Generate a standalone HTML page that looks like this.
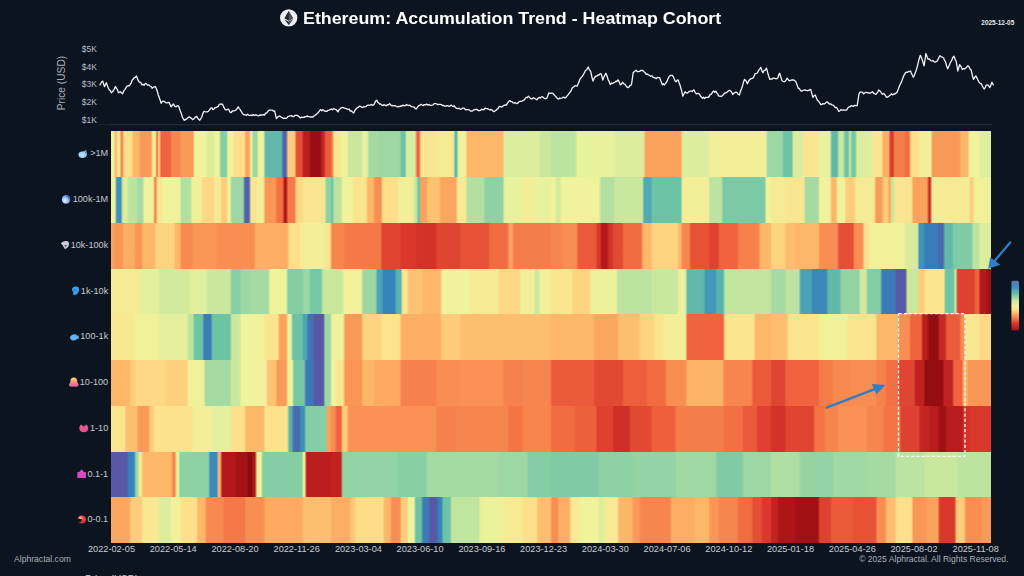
<!DOCTYPE html>
<html><head><meta charset="utf-8"><title>Ethereum: Accumulation Trend - Heatmap Cohort</title>
<style>
html,body{margin:0;padding:0;background:#0c141f;}
body{width:1024px;height:576px;position:relative;overflow:hidden;font-family:"Liberation Sans",sans-serif;color:#c9cdd3;}
.hr{position:absolute;left:111px;width:880px;}
.title{position:absolute;left:303px;top:7.3px;transform-origin:0 0;transform:scaleX(1.037);font-size:17.2px;font-weight:bold;color:#fff;white-space:nowrap;line-height:22px;letter-spacing:0px;}
.rl{position:absolute;right:915.8px;width:80px;text-align:right;font-size:9.15px;line-height:12px;color:#c6cad0;white-space:nowrap;}
.ic{position:absolute;}
.yl{position:absolute;left:70px;width:26.8px;text-align:right;font-size:8.5px;line-height:12px;color:#b9bec5;}
.xl{position:absolute;top:543.3px;width:60px;text-align:center;font-size:9.2px;line-height:12px;color:#c9cdd3;white-space:nowrap;}
.small{position:absolute;white-space:nowrap;}
svg{position:absolute;left:0;top:0;}
</style></head><body>
<div class="title">Ethereum: Accumulation Trend - Heatmap Cohort</div>
<div class="small" style="left:981.3px;top:18px;font-size:6.45px;font-weight:bold;color:#e8eaee;line-height:9px;">2025-12-05</div>
<div class="small" style="left:14px;top:553.2px;font-size:8.6px;line-height:12px;color:#a9afb8;">Alphractal.com</div>
<div class="small" style="left:859.2px;top:553px;font-size:8.55px;line-height:12px;color:#a9afb8;">&copy; 2025 Alphractal. All Rights Reserved.</div>
<div class="small" style="left:85px;top:574px;font-size:10px;line-height:12px;color:#c9cdd3;">Price (USD)</div>
<div class="small" style="left:62.2px;top:83px;width:0;height:0;"><div style="position:absolute;transform:translate(-50%,-50%) rotate(-90deg);font-size:10.2px;line-height:12px;color:#aab0b8;white-space:nowrap;">Price (USD)</div></div>
<div class="yl" style="top:43.2px">$5K</div><div class="yl" style="top:60.8px">$4K</div><div class="yl" style="top:78.3px">$3K</div><div class="yl" style="top:95.9px">$2K</div><div class="yl" style="top:114.1px">$1K</div>
<div style="position:absolute;left:0;top:0;width:1024px;height:576px;filter:blur(0.45px)"><div class="hr" style="top:131.40px;height:46.05px;background:linear-gradient(to right,#f0f39c 0.0px,#f0f39c 2.4px,#fdb768 4.8px,#f7ea94 7.2px,#f7ea94 8.4px,#f47848 10.8px,#fee08b 13.2px,#fee08b 20.4px,#fdb768 22.8px,#fdb768 27.6px,#fa9a59 30.0px,#fa9a59 39.5px,#f7ea94 41.9px,#f7ea94 44.3px,#f0633e 46.1px,#fee08b 47.9px,#f0633e 50.3px,#f0633e 58.7px,#f7854e 61.1px,#f7854e 68.3px,#fa9a59 70.7px,#fa9a59 81.5px,#f0f39c 83.9px,#f0f39c 94.7px,#dcee9d 97.1px,#dcee9d 101.8px,#f0f39c 104.2px,#f0f39c 107.8px,#84cda5 110.2px,#84cda5 115.0px,#f0f39c 117.4px,#f0f39c 121.0px,#fee08b 123.4px,#fee08b 133.0px,#fba25d 135.4px,#fba25d 137.8px,#f0f39c 140.2px,#9dd7a4 142.6px,#9dd7a4 145.5px,#f0f39c 147.9px,#f0f39c 152.2px,#62b9ab 154.6px,#62b9ab 170.1px,#5062aa 172.5px,#5062aa 174.9px,#fecc7a 177.3px,#fecc7a 183.3px,#e44e34 185.7px,#e44e34 190.5px,#bc1e1f 192.9px,#bc1e1f 197.7px,#980e12 200.1px,#980e12 209.2px,#c32522 211.6px,#c32522 212.6px,#eb5a3a 215.0px,#eb5a3a 218.8px,#f37044 221.0px,#fae690 223.1px,#fae690 228.4px,#f0f39c 230.8px,#f0f39c 235.6px,#c9e89e 238.0px,#c9e89e 250.0px,#e8f19c 252.4px,#e8f19c 255.9px,#a6daa3 258.3px,#a6daa3 266.7px,#9dd7a4 269.1px,#9dd7a4 288.3px,#6cc3a6 290.7px,#6cc3a6 293.6px,#dcee9d 296.0px,#dcee9d 303.9px,#f0633e 306.3px,#f0633e 307.9px,#fae690 310.3px,#fae690 324.2px,#f7ea94 326.6px,#f7ea94 342.2px,#5bb3ae 344.6px,#5bb3ae 345.3px,#f0f39c 347.7px,#f0f39c 354.2px,#fdb768 356.6px,#fdb768 391.3px,#dcee9d 393.7px,#dcee9d 427.3px,#c9e89e 429.7px,#c9e89e 438.8px,#bce3a0 441.2px,#bce3a0 464.0px,#e8f19c 466.4px,#e8f19c 502.3px,#dcee9d 504.7px,#dcee9d 532.3px,#fba25d 534.7px,#fba25d 569.4px,#dcee9d 571.8px,#dcee9d 597.0px,#f3ef99 599.4px,#f3ef99 654.5px,#9dd7a4 656.9px,#9dd7a4 658.8px,#9dd7a4 661.2px,#9dd7a4 670.8px,#6cc3a6 673.2px,#6cc3a6 680.4px,#dcee9d 682.8px,#dcee9d 691.2px,#fae690 693.6px,#fae690 706.7px,#e8f19c 709.1px,#e8f19c 718.7px,#62b9ab 721.1px,#62b9ab 725.9px,#c9e89e 728.3px,#c9e89e 731.9px,#6cc3a6 734.3px,#6cc3a6 736.7px,#c9e89e 739.1px,#76c7a6 741.5px,#76c7a6 743.9px,#dcee9d 746.3px,#dcee9d 759.4px,#fae690 761.8px,#fae690 770.2px,#fcaf64 772.6px,#fcaf64 777.4px,#d9382b 779.8px,#d9382b 781.5px,#f57d4a 783.9px,#f57d4a 793.0px,#f26c42 795.4px,#f26c42 797.8px,#fee08b 800.2px,#fee08b 807.4px,#f3ef99 809.8px,#f3ef99 819.4px,#fa9a59 821.8px,#fa9a59 848.1px,#fdb768 850.5px,#fdb768 856.5px,#f0f39c 858.9px,#f0f39c 867.3px,#e0ef9d 869.7px,#e0ef9d 880.0px)"></div><div class="hr" style="top:177.15px;height:46.05px;background:linear-gradient(to right,#f0f39c 0.0px,#f0f39c 3.6px,#4093b8 6.0px,#4093b8 9.6px,#dcee9d 12.0px,#dcee9d 15.6px,#bce3a0 18.0px,#bce3a0 25.2px,#a6daa3 27.6px,#a6daa3 31.2px,#f0f39c 33.6px,#f0f39c 41.9px,#f47848 44.3px,#fae690 46.7px,#fae690 50.3px,#f0f39c 52.7px,#f0f39c 68.3px,#b3e0a1 70.7px,#b3e0a1 79.1px,#f3ef99 81.5px,#f3ef99 89.9px,#fed884 92.3px,#fed884 101.8px,#f7ea94 104.2px,#f7ea94 109.0px,#fecc7a 111.4px,#fecc7a 115.0px,#f0f39c 117.4px,#f0f39c 118.6px,#9dd7a4 121.0px,#9dd7a4 131.8px,#5062aa 134.2px,#5062aa 137.8px,#fae690 140.2px,#fae690 145.0px,#f3ef99 147.4px,#f3ef99 152.2px,#fa9656 154.6px,#fa9656 164.1px,#f37044 166.5px,#f37044 171.3px,#ad1519 173.7px,#ad1519 174.9px,#f47848 177.3px,#f47848 183.3px,#fed884 185.7px,#fed884 190.5px,#fae690 192.9px,#fae690 213.3px,#8ed1a5 215.7px,#8ed1a5 218.8px,#6cc3a6 221.2px,#bce3a0 223.6px,#bce3a0 229.6px,#f0f39c 232.0px,#f0f39c 240.4px,#fbe48e 242.8px,#fbe48e 254.7px,#fdb768 257.1px,#fdb768 261.9px,#f98e52 264.3px,#f98e52 269.6px,#fee08b 272.0px,#fee08b 285.9px,#f3ef99 288.3px,#f3ef99 301.5px,#c9e89e 303.9px,#c9e89e 305.1px,#6cc3a6 307.5px,#6cc3a6 307.9px,#fba25d 310.3px,#fba25d 314.7px,#fdc372 317.1px,#fdc372 327.8px,#fba75f 330.2px,#fba75f 344.6px,#f7ea94 347.0px,#f7ea94 354.2px,#b3e0a1 356.6px,#b3e0a1 372.2px,#8ed1a5 374.6px,#8ed1a5 391.3px,#e8f19c 393.7px,#e8f19c 410.5px,#f4ed97 412.9px,#f4ed97 422.5px,#e8f19c 424.9px,#e8f19c 438.8px,#f0f39c 441.2px,#f0f39c 443.6px,#d1ea9e 446.0px,#d1ea9e 448.4px,#f0f39c 450.8px,#f0f39c 487.9px,#b3e0a1 490.3px,#b3e0a1 502.3px,#c9e89e 504.7px,#c9e89e 531.1px,#51a9b3 533.5px,#51a9b3 539.4px,#6cc3a6 541.8px,#6cc3a6 569.4px,#f3ef99 571.8px,#f3ef99 597.0px,#bce3a0 599.4px,#bce3a0 610.1px,#7bc9a5 612.5px,#7bc9a5 653.3px,#f0f39c 655.7px,#f0f39c 658.8px,#f7ea94 661.2px,#f7ea94 673.2px,#fae690 675.6px,#fae690 692.3px,#a6daa3 694.7px,#a6daa3 706.7px,#f0f39c 709.1px,#f0f39c 718.7px,#fdb768 721.1px,#fdb768 724.7px,#f0f39c 727.1px,#f0f39c 733.1px,#fecc7a 735.5px,#fecc7a 742.7px,#f7ea94 745.1px,#f7ea94 763.0px,#fa9a59 765.4px,#fa9a59 770.2px,#fecc7a 772.6px,#fecc7a 776.2px,#fba25d 778.6px,#c9e89e 781.0px,#c9e89e 782.2px,#fae690 784.6px,#fae690 800.2px,#fba25d 802.6px,#fba25d 815.8px,#c72824 818.2px,#c72824 818.9px,#f6eb95 821.3px,#f6eb95 857.7px,#fecc7a 860.1px,#fecc7a 861.3px,#f1f19a 863.7px,#f1f19a 880.0px)"></div><div class="hr" style="top:222.90px;height:46.05px;background:linear-gradient(to right,#fba25d 0.0px,#fba25d 2.4px,#fa9656 4.8px,#fa9656 10.8px,#fcaf64 13.2px,#fcaf64 22.8px,#fa9656 25.2px,#fa9656 30.0px,#fdb768 32.4px,#fdb768 43.1px,#fed480 45.5px,#fed480 62.3px,#fdb768 64.7px,#fdb768 68.3px,#f88a50 70.7px,#f88a50 80.3px,#fa9656 82.7px,#fa9656 104.2px,#f98e52 106.6px,#f98e52 142.6px,#fcaf64 145.0px,#fcaf64 176.1px,#fee08b 178.5px,#fee08b 188.1px,#f3ef99 190.5px,#f3ef99 212.1px,#fae690 214.5px,#fae690 218.8px,#f7854e 221.2px,#f7854e 232.0px,#f47848 234.4px,#f47848 269.1px,#e04531 271.5px,#e04531 288.3px,#d9382b 290.7px,#d9382b 303.9px,#d23228 306.3px,#d23228 324.2px,#e04531 326.6px,#e04531 348.2px,#e75236 350.6px,#e75236 377.0px,#f26c42 379.4px,#f26c42 396.1px,#fba25d 398.5px,#fba25d 400.9px,#f57d4a 403.3px,#f57d4a 438.8px,#f7854e 441.2px,#f7854e 450.8px,#f98e52 453.2px,#f98e52 465.2px,#eb5a3a 467.6px,#eb5a3a 484.3px,#d9382b 486.7px,#d9382b 488.6px,#b5181c 491.0px,#b5181c 495.8px,#d23228 498.2px,#d23228 500.6px,#e24933 503.0px,#e24933 510.7px,#f26c42 513.1px,#f26c42 529.9px,#fdb768 532.3px,#fdb768 539.4px,#fed480 541.8px,#fed480 565.8px,#fdb768 568.2px,#fdb768 569.4px,#f7854e 571.8px,#f7854e 577.8px,#e75236 580.2px,#e75236 597.0px,#de412f 599.4px,#de412f 606.5px,#f0633e 608.9px,#f0633e 625.7px,#f6814c 628.1px,#f6814c 647.3px,#fdb768 649.7px,#fdb768 658.8px,#fed480 661.2px,#fed480 673.2px,#fdbf6f 675.6px,#fdbf6f 682.8px,#fdb768 685.2px,#fdb768 706.7px,#f98e52 709.1px,#f98e52 725.9px,#e44e34 728.3px,#e44e34 741.5px,#f98e52 743.9px,#f98e52 751.1px,#fee08b 753.5px,#fee08b 757.1px,#f1f19a 759.5px,#f1f19a 793.0px,#d9ec9d 795.4px,#d9ec9d 806.2px,#4093b8 808.6px,#4093b8 812.2px,#3b7cb8 814.6px,#3b7cb8 826.5px,#4b69ad 828.9px,#4b69ad 831.8px,#62b9ab 834.2px,#62b9ab 840.9px,#80cba5 843.3px,#80cba5 860.1px,#bce3a0 862.5px,#bce3a0 867.3px,#dcee9d 869.7px,#dcee9d 880.0px)"></div><div class="hr" style="top:268.65px;height:46.05px;background:linear-gradient(to right,#f7ea94 0.0px,#f7ea94 27.6px,#e4f09d 30.0px,#e4f09d 46.7px,#d1ea9e 49.1px,#d1ea9e 77.9px,#e0ef9d 80.3px,#e0ef9d 94.7px,#c9e89e 97.1px,#c9e89e 118.6px,#84cda5 121.0px,#84cda5 128.2px,#9dd7a4 130.6px,#9dd7a4 137.8px,#a6daa3 140.2px,#a6daa3 157.0px,#f0f39c 159.4px,#f0f39c 174.9px,#84cda5 177.3px,#84cda5 190.5px,#9dd7a4 192.9px,#9dd7a4 197.7px,#76c7a6 200.1px,#76c7a6 209.7px,#c9e89e 212.1px,#c9e89e 218.8px,#c9e89e 221.2px,#c9e89e 230.8px,#f1f19a 233.2px,#f1f19a 250.0px,#9dd7a4 252.4px,#9dd7a4 264.3px,#4aa3b6 266.7px,#4aa3b6 270.3px,#3683bb 272.7px,#3683bb 283.5px,#5bb3ae 285.9px,#5bb3ae 289.5px,#fae690 291.9px,#fae690 295.5px,#fdc372 297.9px,#fdc372 309.9px,#fdb768 312.3px,#fdb768 329.0px,#f0f39c 331.4px,#f0f39c 357.8px,#f7ea94 360.2px,#f7ea94 386.5px,#fed884 388.9px,#fed884 408.1px,#f3ef99 410.5px,#f3ef99 422.5px,#c9e89e 424.9px,#c9e89e 427.3px,#f1f19a 429.7px,#f1f19a 438.8px,#fae690 441.2px,#fae690 460.4px,#fed480 462.8px,#fed480 478.3px,#ecf29c 480.7px,#ecf29c 504.7px,#bce3a0 507.1px,#bce3a0 539.4px,#c9e89e 541.8px,#c9e89e 565.8px,#e8f19c 568.2px,#e8f19c 574.2px,#62b9ab 576.6px,#62b9ab 592.2px,#4499b8 594.6px,#4499b8 604.1px,#5bb3ae 606.5px,#5bb3ae 611.8px,#c0e59f 614.2px,#c0e59f 658.8px,#a6daa3 661.2px,#a6daa3 673.2px,#bce3a0 675.6px,#bce3a0 687.6px,#4aa3b6 690.0px,#4aa3b6 699.5px,#3a89ba 701.9px,#3a89ba 715.1px,#62b9ab 717.5px,#62b9ab 728.3px,#93d3a4 730.7px,#93d3a4 747.5px,#d1ea9e 749.9px,#d1ea9e 754.7px,#84cda5 757.1px,#84cda5 769.0px,#3b7cb8 771.4px,#3b7cb8 783.4px,#5758a6 785.8px,#5758a6 794.2px,#c9e89e 796.6px,#c9e89e 806.2px,#fecc7a 808.6px,#fecc7a 812.2px,#fbe48e 814.6px,#fbe48e 832.5px,#6cc3a6 834.9px,#6cc3a6 842.1px,#c9e89e 844.5px,#de412f 846.9px,#de412f 862.5px,#f0633e 864.9px,#f0633e 867.3px,#b5181c 869.7px,#b5181c 874.5px,#a01115 876.9px,#a01115 880.0px)"></div><div class="hr" style="top:314.40px;height:46.05px;background:linear-gradient(to right,#f8e892 0.0px,#f8e892 22.8px,#f1f19a 25.2px,#f1f19a 46.7px,#e4f09d 49.1px,#e4f09d 75.5px,#bce3a0 77.9px,#bce3a0 81.5px,#6cc3a6 83.9px,#6cc3a6 91.1px,#3b7cb8 93.5px,#3b7cb8 99.4px,#6cc3a6 101.8px,#6cc3a6 118.6px,#c9e89e 121.0px,#c9e89e 128.2px,#f0f39c 130.6px,#f0f39c 152.2px,#fbe48e 154.6px,#fbe48e 166.5px,#fba25d 168.9px,#fba25d 174.9px,#f0f39c 177.3px,#f0f39c 179.7px,#6cc3a6 182.1px,#6cc3a6 190.5px,#4aa3b6 192.9px,#4aa3b6 195.3px,#4372b2 197.7px,#4372b2 201.3px,#5a55a4 203.7px,#5a55a4 212.1px,#9dd7a4 214.5px,#9dd7a4 218.8px,#f0f39c 221.2px,#f0f39c 232.0px,#fa9a59 234.4px,#fa9a59 250.0px,#fed480 252.4px,#fed480 269.1px,#fbe48e 271.5px,#fbe48e 288.3px,#fcaf64 290.7px,#fcaf64 329.0px,#fecc7a 331.4px,#fecc7a 348.2px,#fdbf6f 350.6px,#fdbf6f 438.8px,#fdb768 441.2px,#fdb768 481.9px,#fba75f 484.3px,#fba75f 505.9px,#fdbf6f 508.3px,#fdbf6f 527.5px,#fed480 529.9px,#fed480 541.8px,#fbe48e 544.2px,#fbe48e 551.4px,#f3ef99 553.8px,#f3ef99 574.2px,#f0633e 576.6px,#f0633e 611.8px,#fbe48e 614.2px,#fbe48e 642.5px,#fdb768 644.9px,#fdb768 658.8px,#fdbf6f 661.2px,#fdbf6f 675.6px,#fbe48e 678.0px,#fbe48e 706.7px,#f1f19a 709.1px,#f1f19a 735.5px,#fbe48e 737.9px,#fbe48e 764.2px,#fdb768 766.6px,#fdb768 785.8px,#f98e52 788.2px,#f98e52 797.8px,#f0633e 800.2px,#f0633e 809.8px,#bc1e1f 812.2px,#bc1e1f 815.8px,#930d11 818.2px,#930d11 826.5px,#c72824 828.9px,#c72824 833.7px,#eb5a3a 836.1px,#eb5a3a 848.1px,#f98e52 850.5px,#f98e52 852.9px,#f8e892 855.3px,#f8e892 867.3px,#fed884 869.7px,#fed884 880.0px)"></div><div class="hr" style="top:360.15px;height:46.05px;background:linear-gradient(to right,#fdb768 0.0px,#fdb768 18.0px,#fecc7a 20.4px,#fecc7a 22.8px,#fed884 25.2px,#fed884 53.9px,#fed07d 56.3px,#fed07d 75.5px,#f1f19a 77.9px,#f1f19a 92.3px,#a6daa3 94.7px,#a6daa3 118.6px,#c9e89e 121.0px,#c9e89e 128.2px,#f0f39c 130.6px,#f0f39c 154.6px,#fdc372 157.0px,#fdc372 164.1px,#fa9a59 166.5px,#fa9a59 174.9px,#f0f39c 177.3px,#f0f39c 180.9px,#76c7a6 183.3px,#76c7a6 192.9px,#3e79b6 195.3px,#3e79b6 201.3px,#5758a6 203.7px,#5758a6 212.1px,#9dd7a4 214.5px,#9dd7a4 218.8px,#f0f39c 221.2px,#f0f39c 223.6px,#fae690 226.0px,#fae690 232.0px,#fa9656 234.4px,#fa9656 250.0px,#fdb768 252.4px,#fdb768 261.9px,#fcab61 264.3px,#fcab61 288.3px,#f6814c 290.7px,#f6814c 324.2px,#f98e52 326.6px,#f98e52 348.2px,#f99254 350.6px,#f99254 391.3px,#f6814c 393.7px,#f6814c 410.5px,#f7854e 412.9px,#f7854e 438.8px,#eb5a3a 441.2px,#eb5a3a 481.9px,#e24933 484.3px,#e24933 510.7px,#ee5f3c 513.1px,#ee5f3c 534.7px,#f26c42 537.1px,#f26c42 553.8px,#f98e52 556.2px,#f98e52 574.2px,#fdb366 576.6px,#fdb366 611.3px,#f7854e 613.7px,#f7854e 640.1px,#eb5a3a 642.5px,#eb5a3a 658.8px,#e04531 661.2px,#e04531 673.2px,#f0633e 675.6px,#f0633e 706.7px,#f57d4a 709.1px,#f57d4a 721.1px,#f88a50 723.5px,#f88a50 737.9px,#f98e52 740.3px,#f98e52 764.2px,#f6814c 766.6px,#f6814c 773.8px,#f37044 776.2px,#f37044 785.8px,#e04531 788.2px,#e04531 802.6px,#c02220 805.0px,#c02220 812.2px,#930d11 814.6px,#930d11 831.3px,#c02220 833.7px,#c02220 840.9px,#f0633e 843.3px,#f0633e 850.5px,#fdb768 852.9px,#fdb768 855.3px,#fa9656 857.7px,#fa9656 880.0px)"></div><div class="hr" style="top:405.90px;height:46.05px;background:linear-gradient(to right,#fbe48e 0.0px,#fbe48e 13.2px,#fdbf6f 15.6px,#fdbf6f 25.2px,#fa9a59 27.6px,#fa9a59 37.1px,#fecc7a 39.5px,#fecc7a 41.9px,#fde28d 44.3px,#fde28d 80.3px,#f3ef99 82.7px,#f3ef99 99.4px,#e4f09d 101.8px,#e4f09d 118.6px,#fee08b 121.0px,#fee08b 133.0px,#fdb768 135.4px,#fdb768 152.2px,#fde28d 154.6px,#fde28d 176.1px,#5bb3ae 178.5px,#5bb3ae 180.4px,#486caf 182.8px,#486caf 188.1px,#3e90b9 190.5px,#3e90b9 192.9px,#84cda5 195.3px,#84cda5 214.5px,#fba25d 216.9px,#fba25d 218.8px,#f98e52 221.2px,#f98e52 223.6px,#f0633e 226.0px,#f0633e 229.6px,#fecc7a 232.0px,#fecc7a 235.6px,#f99254 238.0px,#f99254 324.2px,#f6814c 326.6px,#f6814c 343.4px,#f7854e 345.8px,#f7854e 396.1px,#f47446 398.5px,#f47446 410.5px,#f7854e 412.9px,#f7854e 438.8px,#f26c42 441.2px,#f26c42 462.8px,#ee5f3c 465.2px,#ee5f3c 484.3px,#de412f 486.7px,#de412f 501.1px,#ce2e26 503.5px,#ce2e26 517.9px,#e24933 520.3px,#e24933 539.4px,#ee5f3c 541.8px,#ee5f3c 563.4px,#f57d4a 565.8px,#f57d4a 611.3px,#f37044 613.7px,#f37044 630.5px,#eb5a3a 632.9px,#eb5a3a 644.9px,#de412f 647.3px,#de412f 658.8px,#d23228 661.2px,#d23228 673.2px,#e04531 675.6px,#e04531 701.9px,#f47446 704.3px,#f47446 712.7px,#f7854e 715.1px,#f7854e 725.9px,#f99254 728.3px,#f99254 754.7px,#f7854e 757.1px,#f7854e 771.4px,#f47446 773.8px,#f47446 788.2px,#de412f 790.6px,#de412f 807.4px,#c32522 809.8px,#c32522 817.0px,#b91b1e 819.4px,#b91b1e 826.5px,#a01115 828.9px,#a01115 833.7px,#b91b1e 836.1px,#b91b1e 850.5px,#d23228 852.9px,#d23228 857.7px,#d9382b 860.1px,#d9382b 880.0px)"></div><div class="hr" style="top:451.65px;height:46.05px;background:linear-gradient(to right,#5758a6 0.0px,#5758a6 15.6px,#3683bb 18.0px,#3683bb 22.8px,#9dd7a4 25.2px,#9dd7a4 26.4px,#f7ea94 28.8px,#f7ea94 30.0px,#fdb768 32.4px,#fdb768 59.9px,#f7854e 62.3px,#f7854e 63.5px,#f0f39c 65.9px,#f0f39c 67.1px,#8ed1a5 69.5px,#8ed1a5 97.1px,#3a89ba 99.5px,#3a89ba 105.4px,#fdb768 107.8px,#fdb768 109.0px,#b5181c 111.4px,#b5181c 123.4px,#a41216 125.8px,#a41216 135.4px,#8b0a0e 137.8px,#8b0a0e 140.2px,#ad1519 142.6px,#ad1519 143.8px,#f0f39c 146.2px,#f0f39c 149.8px,#84cda5 152.2px,#84cda5 190.5px,#f0f39c 192.9px,#f0f39c 193.4px,#bc1e1f 195.8px,#bc1e1f 218.8px,#c02220 221.2px,#c02220 229.6px,#93d3a4 232.0px,#93d3a4 285.9px,#89cfa5 288.3px,#89cfa5 314.7px,#a6daa3 317.1px,#a6daa3 386.5px,#9dd7a4 388.9px,#9dd7a4 415.3px,#84cda5 417.7px,#84cda5 438.8px,#80cba5 441.2px,#80cba5 486.7px,#8ed1a5 489.1px,#8ed1a5 520.3px,#93d3a4 522.7px,#93d3a4 563.4px,#a1d9a3 565.8px,#a1d9a3 604.1px,#80cba5 606.5px,#80cba5 630.5px,#9dd7a4 632.9px,#9dd7a4 658.8px,#afdea2 661.2px,#afdea2 687.6px,#93d3a4 690.0px,#93d3a4 721.1px,#a1d9a3 723.5px,#a1d9a3 754.7px,#a6daa3 757.1px,#a6daa3 783.4px,#bce3a0 785.8px,#bce3a0 812.2px,#c9e89e 814.6px,#c9e89e 845.7px,#bce3a0 848.1px,#bce3a0 880.0px)"></div><div class="hr" style="top:497.40px;height:46.05px;background:linear-gradient(to right,#fba75f 0.0px,#fba75f 18.0px,#fecc7a 20.4px,#fecc7a 30.0px,#f8e892 32.4px,#f8e892 46.7px,#dcee9d 49.1px,#dcee9d 58.7px,#f1f19a 61.1px,#f1f19a 68.3px,#fee08b 70.7px,#fee08b 85.1px,#fdb768 87.5px,#fdb768 93.5px,#f88a50 95.9px,#f88a50 111.4px,#f47848 113.8px,#f47848 133.0px,#f98e52 135.4px,#f98e52 152.2px,#fcab61 154.6px,#fcab61 190.5px,#fdbf6f 192.9px,#fdbf6f 218.8px,#fcaf64 221.2px,#fcaf64 238.0px,#fdc776 240.4px,#fdc776 242.8px,#fedc88 245.2px,#fedc88 271.5px,#fdb768 273.9px,#fdb768 278.7px,#f98e52 281.1px,#f98e52 288.3px,#fecc7a 290.7px,#fecc7a 295.5px,#f0f39c 297.9px,#f0f39c 302.7px,#6cc3a6 305.1px,#6cc3a6 309.9px,#3e79b6 312.3px,#3e79b6 317.1px,#5758a6 319.5px,#5758a6 325.4px,#3683bb 327.8px,#3683bb 330.2px,#6cc3a6 332.6px,#6cc3a6 338.6px,#c0e59f 341.0px,#c0e59f 367.4px,#ecf29c 369.8px,#ecf29c 391.3px,#f7ea94 393.7px,#f7ea94 410.5px,#fee08b 412.9px,#fee08b 424.9px,#fdbf6f 427.3px,#fdbf6f 438.8px,#f98e52 441.2px,#f98e52 446.0px,#fcaf64 448.4px,#fcaf64 458.0px,#f7ea94 460.4px,#f7ea94 467.6px,#f0f39c 470.0px,#f0f39c 486.7px,#dcee9d 489.1px,#dcee9d 491.5px,#f7ea94 493.9px,#f7ea94 505.9px,#fdb768 508.3px,#fdb768 520.3px,#fa9a59 522.7px,#fa9a59 527.5px,#f7854e 529.9px,#f7854e 558.6px,#fcaf64 561.0px,#fcaf64 582.6px,#fdb768 585.0px,#fdb768 597.0px,#fa9656 599.4px,#fa9656 606.5px,#f7854e 608.9px,#f7854e 625.7px,#f26c42 628.1px,#f26c42 640.1px,#e44e34 642.5px,#e44e34 649.7px,#d9382b 652.1px,#d9382b 658.8px,#c02220 661.2px,#c02220 666.0px,#ad1519 668.4px,#ad1519 682.8px,#a01115 685.2px,#a01115 706.7px,#de412f 709.1px,#de412f 718.7px,#eb5a3a 721.1px,#eb5a3a 740.3px,#e75236 742.7px,#e75236 764.2px,#f98e52 766.6px,#f98e52 773.8px,#fdbf6f 776.2px,#fdbf6f 783.4px,#fee08b 785.8px,#fee08b 800.2px,#fa9656 802.6px,#fa9656 814.6px,#fba25d 817.0px,#fba25d 826.5px,#d9382b 828.9px,#d9382b 843.3px,#fecc7a 845.7px,#fecc7a 852.9px,#f98e52 855.3px,#f98e52 869.7px,#fa9a59 872.1px,#fa9a59 880.0px)"></div></div>
<div class="rl" style="top:147.38px">>1M</div><div class="rl" style="top:193.12px">100k-1M</div><div class="rl" style="top:238.88px">10k-100k</div><div class="rl" style="top:284.62px">1k-10k</div><div class="rl" style="top:330.38px">100-1k</div><div class="rl" style="top:376.12px">10-100</div><div class="rl" style="top:421.88px">1-10</div><div class="rl" style="top:467.62px">0.1-1</div><div class="rl" style="top:513.38px">0-0.1</div>
<div class="xl" style="left:81.5px">2022-02-05</div><div class="xl" style="left:143.2px">2022-05-14</div><div class="xl" style="left:205.0px">2022-08-20</div><div class="xl" style="left:266.7px">2022-11-26</div><div class="xl" style="left:328.4px">2023-03-04</div><div class="xl" style="left:390.1px">2023-06-10</div><div class="xl" style="left:451.9px">2023-09-16</div><div class="xl" style="left:513.6px">2023-12-23</div><div class="xl" style="left:575.3px">2024-03-30</div><div class="xl" style="left:637.1px">2024-07-06</div><div class="xl" style="left:698.8px">2024-10-12</div><div class="xl" style="left:760.5px">2025-01-18</div><div class="xl" style="left:822.3px">2025-04-26</div><div class="xl" style="left:884.0px">2025-08-02</div><div class="xl" style="left:945.7px">2025-11-08</div>
<svg width="1024" height="576" viewBox="0 0 1024 576">
<defs><filter id="sb" x="-20%" y="-20%" width="140%" height="140%"><feGaussianBlur stdDeviation="0.45"/></filter>
<linearGradient id="oc" x1="0" y1="0" x2="0" y2="1"><stop offset="0" stop-color="#f8dc70"/><stop offset="0.45" stop-color="#f89878"/><stop offset="0.8" stop-color="#ea6aa0"/><stop offset="1" stop-color="#d85898"/></linearGradient>
<radialGradient id="w2" cx="0.35" cy="0.65" r="0.7"><stop offset="0" stop-color="#eef2ff"/><stop offset="0.45" stop-color="#a8ccf8"/><stop offset="1" stop-color="#3f7fdc"/></radialGradient>
<radialGradient id="w1" cx="0.4" cy="0.6" r="0.7"><stop offset="0" stop-color="#bfe4fc"/><stop offset="0.7" stop-color="#92ccf2"/><stop offset="1" stop-color="#5f9fd6"/></radialGradient>
<radialGradient id="sh" cx="0.3" cy="0.35" r="0.8"><stop offset="0" stop-color="#f8c0b8"/><stop offset="0.45" stop-color="#ea4a3a"/><stop offset="1" stop-color="#b82222"/></radialGradient>
</defs>
<g filter="url(#sb)">
<path d="M78.4 154.6 C78.4 152.4 80.2 151.3 82.4 151.4 C83.6 151.4 84.6 151.6 85.2 150 L86 149.8 C86.2 151.2 86.9 152.2 87 153.9 C87.1 156.4 85 158 82.4 158 C80 158 78.4 156.8 78.4 154.6 Z" fill="url(#w1)"/>
<path d="M85.4 150.6 L86.4 153.6 L85.2 153.2 Z" fill="#2f5f9c"/>
<ellipse cx="66.1" cy="199.4" rx="4.2" ry="4.4" fill="url(#w2)"/>
<path d="M66.3 196.2 C68.2 196.4 69.3 197.8 69.2 199.6" stroke="#2b62b8" stroke-width="0.9" fill="none"/>
<path d="M61 243.6 C61.6 241.6 64.2 240.8 66.6 241 C68.4 241.2 69.2 242.6 69 244.6 C68.8 246.8 67.4 248.4 65 249.2 L63.8 247.2 L62.6 245.2 Z" fill="#c9cdd5"/>
<path d="M64 245 L67.4 245 L65.4 247.4 Z" fill="#6b7280"/>
<path d="M72 289 C72.4 287.2 74.6 286.3 76.8 286.6 C78.6 286.9 79.2 288.6 79 290.6 C78.8 292.6 77.4 294.4 75 294.9 L72.6 294.4 L73.6 292.2 L72.2 291 Z" fill="#3d9fea"/>
<path d="M73.2 290.2 C74.4 289.6 75.6 290 76.2 291.2" stroke="#1d5db0" stroke-width="0.9" fill="none"/>
<path d="M69.8 337.4 C71 335.2 73.4 333.9 75.6 334.4 C76.6 334.6 77.2 335.4 77.6 336.2 L78.8 335.2 L78.6 339.6 L77.4 338.6 C76.4 340.2 74.2 341 72.4 340.4 C71 339.9 70.2 338.8 69.8 337.4 Z" fill="#5eb2fa"/>
<path d="M73.8 377.5 C76 377.5 77.2 379.1 77.2 381 C77.2 382.2 77.6 383 78.4 384.2 C79 385.4 78.2 386.9 76.8 386.4 L75.4 386.9 L73.8 386.2 L72.2 386.9 L70.8 386.4 C69.4 386.9 68.6 385.4 69.2 384.2 C70 383 70.4 382.2 70.4 381 C70.4 379.1 71.6 377.5 73.8 377.5 Z" fill="url(#oc)"/>
<path d="M79.3 428.8 C79.1 426.6 80.2 424.8 81.6 424.5 L82.6 426 C83.3 425.8 84.2 425.8 84.9 426 L85.9 424.5 C87.3 424.8 88.4 426.6 88.2 428.8 C88 431 86.2 432.3 83.75 432.3 C81.3 432.3 79.5 431 79.3 428.8 Z" fill="#ea5690"/>
<path d="M82.6 426.6 L83.75 427.6 L84.9 426.6 Z" fill="#b03068"/>
<path d="M81.6 469.3 L84 472 L85.9 472.2 L85.9 478 L77.3 478 L77.3 472.2 L79.2 472 Z" fill="#d64ac6"/>
<path d="M78.2 517.4 C79.6 515.4 82.6 514.9 84.6 516.2 C86.6 517.6 86.8 520.6 85.2 522.4 C83.6 524 80.6 523.9 78.6 522.8 L81.4 521.4 L82 519.2 L77.6 518.6 Z" fill="url(#sh)"/>
</g>
<circle cx="288.7" cy="17.9" r="8.7" fill="#eceef2"/>
<path d="M288.7 10.9 L284.4 18.2 L288.7 20.7 L293 18.2 Z M284.4 19.2 L288.7 25.1 L293 19.2 L288.7 21.7 Z" fill="#1f2733"/><path d="M288.7 10.9 L288.7 20.7 L293 18.2 Z M288.7 21.7 L288.7 25.1 L293 19.2 Z" fill="#4a525e"/>
<line x1="98" y1="124.7" x2="110" y2="124.7" stroke="#18222d" stroke-width="1.2"/><line x1="110" y1="124.7" x2="992" y2="124.7" stroke="#222d39" stroke-width="1.3"/>
<polyline points="100.0,84.9 100.9,83.3 101.8,81.7 102.7,81.1 104.5,86.7 106.3,82.7 108.4,88.3 109.4,90.1 110.3,90.5 111.3,92.8 112.4,91.7 113.5,90.5 115.5,86.5 116.5,88.4 117.5,89.9 118.5,92.8 120.3,91.7 121.4,92.8 122.5,93.9 123.8,90.8 125.0,89.3 126.3,87.2 127.3,86.0 128.2,85.7 129.2,86.0 130.2,84.2 131.1,83.2 132.1,80.3 133.1,79.3 134.2,77.7 135.3,77.3 136.4,75.9 138.2,80.4 139.1,82.0 140.0,82.1 140.9,82.7 142.0,84.9 143.1,84.4 144.2,85.2 145.4,83.3 146.5,83.8 147.6,85.2 148.8,84.9 149.9,86.0 151.1,86.5 152.2,88.3 153.3,87.1 154.4,86.9 155.5,86.7 157.1,90.5 158.3,95.0 159.6,98.4 161.1,103.3 162.2,101.6 163.4,101.1 164.5,101.8 165.7,102.6 166.8,102.9 169.0,102.4 171.2,106.9 172.3,105.2 173.5,104.0 175.1,106.7 176.3,106.7 177.5,105.6 178.7,106.3 180.2,110.8 181.3,113.4 182.5,117.5 184.3,120.4 185.2,119.3 186.1,119.5 187.0,118.6 189.2,116.8 190.3,117.6 191.5,118.4 192.6,119.7 193.6,119.0 194.6,118.0 195.6,116.9 196.6,116.4 197.7,118.2 198.7,119.3 199.8,120.2 201.6,117.5 202.7,114.0 203.8,111.4 204.9,111.7 206.1,111.8 207.2,111.9 208.5,111.2 209.7,109.6 211.0,107.8 212.0,107.9 212.9,109.6 213.9,109.2 215.0,107.7 216.2,107.5 217.3,106.9 218.3,106.4 219.2,104.3 220.2,104.0 221.1,104.3 222.0,103.9 222.9,105.1 224.1,107.7 225.2,109.6 226.3,109.9 227.4,109.5 228.5,109.2 230.1,112.3 231.2,112.5 232.4,111.0 233.5,110.8 234.5,110.8 235.4,110.2 236.4,109.6 238.2,106.9 239.1,108.3 240.0,109.4 240.9,110.8 242.0,112.7 243.2,114.3 244.3,114.8 245.4,114.9 246.5,115.3 247.6,114.3 248.7,115.2 249.8,115.4 250.9,115.2 252.1,115.6 253.2,114.6 254.3,115.5 255.4,114.8 256.6,115.2 257.7,115.7 258.8,115.9 260.0,114.7 261.1,115.4 262.2,114.8 263.4,114.6 264.5,115.2 265.6,113.1 266.7,113.1 267.8,111.4 268.9,110.3 270.1,110.1 271.2,110.1 272.3,110.1 273.5,111.2 274.6,110.8 276.4,118.6 278.4,116.4 279.7,116.0 280.9,117.0 282.2,117.6 283.4,118.5 284.7,118.2 285.8,118.3 286.9,117.9 288.1,116.4 289.2,116.2 290.3,115.9 291.4,115.6 292.6,116.6 293.7,116.7 294.8,115.3 295.9,115.3 297.1,115.4 298.2,115.9 300.4,117.9 301.5,117.2 302.6,117.4 303.8,117.4 304.9,116.6 306.0,116.8 307.1,115.9 308.2,116.7 309.4,116.7 310.5,117.1 311.6,117.0 312.7,117.2 313.9,116.1 315.0,115.2 316.1,114.6 317.2,113.5 318.4,112.4 319.5,110.8 320.6,109.6 321.8,110.7 322.9,109.6 323.9,110.6 325.0,111.3 326.0,111.2 327.0,111.4 328.0,110.3 329.0,110.1 330.1,109.7 331.2,109.0 332.4,109.8 333.5,108.6 334.6,109.2 335.7,109.3 336.9,110.5 338.0,111.9 338.9,110.0 339.8,109.1 340.7,108.1 342.0,107.5 343.2,107.6 344.5,108.1 345.7,108.3 347.0,109.2 348.1,109.4 349.2,109.1 350.3,111.1 351.4,110.8 352.5,112.1 353.7,113.0 354.6,110.9 355.5,109.6 356.4,108.5 357.4,107.7 358.4,107.2 359.4,106.2 360.4,106.3 361.5,107.1 362.6,107.5 363.8,106.7 364.9,106.9 366.0,106.5 367.1,105.4 368.3,105.1 369.4,105.2 370.5,105.1 371.6,104.5 372.8,105.4 373.9,104.7 374.9,102.6 375.8,100.8 376.8,100.2 377.7,102.3 378.6,102.8 379.5,104.0 380.6,103.9 381.8,105.1 382.9,105.6 384.0,104.5 385.1,105.2 386.3,105.8 387.4,104.7 388.5,104.8 389.6,103.6 390.8,105.1 391.9,105.8 393.0,105.5 394.1,105.9 395.3,105.7 396.4,106.5 397.5,106.9 398.6,106.4 399.8,106.7 400.9,105.8 402.0,106.0 403.1,105.1 404.2,105.8 405.4,105.7 406.5,104.5 407.6,105.3 408.7,105.5 409.8,105.1 410.9,106.3 412.1,106.7 413.2,106.9 414.2,107.1 415.1,108.3 416.1,109.0 417.4,107.4 418.7,105.6 420.0,105.1 421.1,104.4 422.2,105.0 423.3,105.6 424.4,104.6 425.6,104.9 426.7,104.0 427.8,105.2 429.0,104.6 430.1,105.1 431.1,105.5 432.1,105.2 433.1,104.8 434.1,103.6 435.4,103.7 436.6,103.8 437.9,104.7 439.0,104.3 440.1,104.4 441.3,104.6 442.4,105.5 443.5,105.4 444.6,106.2 445.8,106.1 446.9,105.6 448.0,105.9 449.2,106.3 450.3,105.8 451.3,105.1 452.3,106.1 453.3,106.5 454.3,105.8 455.2,107.2 456.1,108.1 457.0,108.5 458.1,108.6 459.2,108.2 460.4,109.4 461.5,109.0 462.6,108.2 463.8,108.1 464.9,109.1 466.0,109.9 467.1,109.6 468.2,109.7 469.3,109.9 470.5,111.1 471.6,111.0 472.7,110.8 473.8,109.9 474.9,109.5 476.1,109.3 477.2,109.6 478.3,110.6 479.5,110.6 480.6,110.3 481.7,109.1 482.9,109.8 484.0,109.5 485.1,108.1 486.2,108.7 487.4,108.6 488.5,109.2 489.6,109.8 490.8,109.5 491.9,109.8 493.0,111.2 494.1,111.7 495.2,110.7 496.3,110.1 497.2,109.0 498.1,108.6 499.0,106.7 500.0,106.4 501.1,107.0 502.1,106.8 503.1,106.0 504.2,105.2 505.3,105.0 506.4,105.1 507.5,103.2 508.7,101.6 509.8,100.6 510.9,101.5 512.1,101.7 513.2,102.9 514.3,103.0 515.4,102.7 516.5,103.6 517.6,103.4 518.8,101.8 519.9,101.3 521.1,101.3 522.2,101.1 523.3,100.2 524.4,99.8 525.5,98.0 526.5,97.3 527.4,97.6 528.4,96.2 529.3,97.1 530.2,98.1 531.1,98.9 532.2,98.8 533.4,97.7 534.5,98.4 535.6,99.0 536.8,99.8 537.9,98.5 539.0,97.4 540.2,98.1 541.3,96.8 542.5,96.8 543.8,98.0 545.0,98.6 546.7,98.4 548.9,92.8 549.9,93.4 551.0,93.3 552.0,93.0 553.0,93.5 554.1,94.8 555.3,96.1 556.4,97.3 557.5,98.7 558.6,99.1 559.7,98.0 560.9,98.5 562.0,98.0 563.0,97.4 564.0,97.2 565.0,98.0 566.0,97.3 566.9,96.2 567.8,95.1 568.7,93.9 569.8,92.5 571.0,90.9 572.1,88.3 573.1,87.3 574.0,86.7 575.0,85.6 576.1,85.8 577.2,86.0 578.1,83.8 579.0,81.9 579.9,79.3 581.0,77.7 582.2,76.4 583.3,74.8 584.5,72.5 585.6,70.3 586.5,70.0 587.3,68.5 588.2,67.0 589.5,69.9 590.7,71.4 591.9,77.0 593.0,81.1 594.1,78.4 595.2,76.6 596.1,76.1 597.0,76.2 597.9,74.8 599.0,75.2 600.2,73.7 601.3,74.1 602.8,80.0 603.8,77.1 604.8,75.4 605.8,73.2 606.9,75.5 608.0,79.3 609.1,81.4 610.3,84.5 611.4,83.1 612.5,83.6 613.6,82.7 614.8,82.4 615.9,81.1 616.8,81.6 617.7,80.0 618.6,80.4 620.4,84.9 621.5,83.9 622.6,82.2 623.7,83.8 624.9,84.1 626.0,86.0 627.0,87.1 627.9,87.6 628.9,87.2 629.8,85.6 630.7,85.7 631.6,83.8 633.2,72.6 634.2,71.7 635.1,71.0 636.1,70.3 637.2,71.5 638.4,71.6 639.5,71.4 640.6,70.4 641.7,70.5 642.8,70.3 643.9,71.7 645.1,72.7 646.2,74.4 647.3,74.2 648.5,74.8 649.6,75.5 650.7,76.4 651.8,75.7 652.9,77.1 654.0,77.7 655.2,78.0 656.3,78.6 657.4,77.4 658.6,77.7 659.7,77.7 660.6,80.3 661.5,82.5 662.4,84.9 663.4,83.7 664.3,85.0 665.3,83.8 666.3,82.5 667.2,80.9 668.2,78.2 669.4,76.1 670.5,75.5 671.4,75.4 672.3,75.4 673.2,76.6 675.4,81.6 676.3,81.6 677.2,80.1 678.1,80.0 680.3,86.0 681.5,90.4 682.8,96.2 684.0,93.8 685.1,91.7 686.0,92.8 686.9,93.0 687.8,92.8 688.9,91.8 690.0,91.1 691.1,91.2 692.1,91.5 693.0,90.5 694.0,89.9 695.1,92.3 696.3,93.9 697.4,93.4 698.6,93.6 699.7,94.6 700.6,96.2 701.5,97.0 702.4,98.4 703.5,97.3 704.6,98.5 705.7,97.3 706.8,97.3 708.0,97.4 709.1,96.6 710.2,94.4 711.4,94.2 712.5,92.1 713.6,91.0 714.7,92.2 715.8,91.2 716.8,92.8 717.8,94.2 718.8,96.2 720.1,96.1 721.3,96.5 722.6,95.5 723.7,94.2 724.8,93.0 725.9,92.8 726.9,92.3 728.0,91.2 729.0,90.4 730.0,90.5 730.9,91.3 731.8,92.4 732.7,94.6 733.8,93.2 734.9,92.6 736.0,92.1 737.1,92.7 738.3,94.5 739.4,95.0 740.5,91.3 741.7,88.3 742.7,85.3 743.6,81.7 744.6,79.3 745.5,80.5 746.4,81.4 747.3,83.8 748.4,81.7 749.6,79.7 750.7,78.9 752.9,78.2 754.0,76.4 755.1,73.7 756.2,73.4 757.4,73.0 758.5,70.6 759.7,69.2 760.8,67.4 761.9,70.8 763.0,72.6 764.1,70.4 765.3,70.2 766.4,68.1 767.5,71.9 768.6,75.9 769.8,79.3 770.8,78.9 771.9,79.2 772.9,78.2 773.9,78.1 775.0,78.4 776.0,78.8 777.0,78.6 777.9,77.7 778.8,74.7 779.7,73.2 781.9,80.4 782.9,81.4 783.8,81.6 784.8,81.6 786.0,80.1 787.1,78.2 789.3,80.9 790.4,80.4 791.6,80.0 792.7,80.0 793.8,79.9 795.0,80.8 796.1,82.2 798.3,88.3 799.4,88.5 800.6,90.7 801.7,91.2 802.8,90.5 804.0,90.1 805.1,89.8 806.2,90.3 807.3,90.7 808.5,90.5 809.6,89.9 810.7,89.4 812.9,97.3 814.0,95.8 815.2,95.0 817.4,100.2 818.5,101.2 819.7,102.8 820.8,104.7 821.9,104.4 823.1,103.6 824.2,104.0 825.3,103.2 826.4,102.1 827.5,101.8 828.6,103.4 829.8,104.1 830.9,104.0 832.0,104.9 833.2,105.1 834.3,106.3 835.4,107.7 836.5,107.4 837.6,109.1 838.8,111.4 839.9,110.7 841.0,109.6 842.1,110.1 843.2,109.9 844.4,110.1 845.5,110.1 846.6,110.1 847.8,108.0 848.9,106.9 850.0,106.8 851.1,105.7 852.3,106.0 853.4,106.3 854.7,105.3 855.9,105.7 857.2,105.6 859.0,93.9 860.1,92.2 861.2,92.1 862.4,92.1 863.5,93.9 864.6,93.0 865.7,92.4 866.8,92.3 867.9,92.8 869.1,93.0 870.2,93.2 872.4,91.7 873.5,93.1 874.7,93.8 875.8,94.4 876.8,93.3 877.7,92.1 878.7,89.9 879.6,90.7 880.5,91.5 881.4,92.8 882.5,94.3 883.7,93.4 884.8,94.6 886.6,97.3 887.9,96.9 889.1,96.0 890.4,95.0 891.5,93.8 892.7,94.9 893.8,93.9 894.9,94.0 896.1,92.9 897.2,92.1 899.4,86.0 900.5,83.8 901.7,81.4 902.8,78.2 903.7,75.7 904.6,74.5 905.5,72.6 906.5,72.2 907.4,72.4 908.4,71.4 909.5,71.7 910.6,71.0 911.5,73.6 912.4,75.2 913.3,77.1 914.3,75.5 915.2,72.9 916.2,70.3 917.4,66.1 918.5,61.3 920.3,55.3 921.4,57.5 922.5,60.7 924.1,65.8 925.9,53.5 927.9,59.1 928.9,58.8 929.8,59.5 930.8,60.7 931.9,60.8 933.1,60.7 934.2,61.8 935.1,62.2 936.0,61.6 936.9,61.3 937.9,59.7 938.8,57.8 939.8,55.7 940.8,56.6 941.8,56.9 942.8,57.5 943.7,57.9 944.5,60.6 945.4,61.3 946.5,65.5 947.7,68.8 948.6,66.7 949.5,64.7 950.4,62.5 951.6,60.7 952.8,57.5 954.0,56.2 955.1,59.2 956.2,61.3 957.8,71.0 959.6,64.7 960.5,65.9 961.4,67.2 962.3,69.6 963.4,68.7 964.6,69.0 965.7,68.1 967.9,65.8 969.0,66.8 970.2,69.2 971.3,70.3 972.4,75.7 973.5,79.3 974.6,77.6 975.8,75.9 976.9,77.8 978.0,80.1 979.1,82.2 980.2,83.3 981.4,83.8 982.3,86.0 983.2,87.5 984.1,89.0 985.1,87.9 986.0,85.5 987.0,84.9 988.0,85.2 988.9,86.3 989.9,87.6 991.9,82.2 993.3,84.9" fill="none" stroke="#f2f4f7" stroke-width="1.3" stroke-linejoin="round" stroke-linecap="round"/>
<rect x="898.5" y="313.6" width="66.5" height="142.8" fill="none" stroke="#fff" stroke-width="1.3" stroke-dasharray="3.2 2"/>
<g stroke="#317cc4" stroke-width="2.3" fill="#317cc4" stroke-linecap="round">
<line x1="826.6" y1="407.6" x2="876" y2="388.6"/>
<path d="M885.3 385.1 L871.8 384 L876.4 394.6 Z" stroke="none"/>
<line x1="1010.2" y1="242.4" x2="994.5" y2="261"/>
<path d="M988.1 268.7 L990.2 257.2 L1000.4 264.8 Z" stroke="none"/>
</g>
<defs><linearGradient id="cb" x1="0" y1="0" x2="0" y2="1">
<stop offset="0" stop-color="#6470b4"/><stop offset="0.12" stop-color="#3e8cc4"/><stop offset="0.27" stop-color="#6cc3a6"/><stop offset="0.40" stop-color="#c9e89e"/><stop offset="0.50" stop-color="#f0f09c"/><stop offset="0.58" stop-color="#fee08b"/><stop offset="0.72" stop-color="#f98e52"/><stop offset="0.86" stop-color="#d9382b"/><stop offset="1" stop-color="#a01020"/>
</linearGradient></defs>
<rect x="1011.4" y="280.8" width="7.6" height="49.8" rx="1.5" fill="url(#cb)"/>
</svg>
</body></html>
